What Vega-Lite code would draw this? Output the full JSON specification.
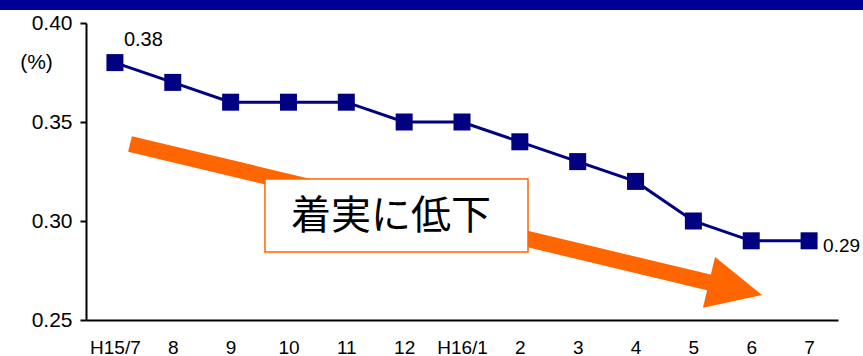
{
  "$schema": "https://vega.github.io/schema/vega-lite/v6.json",
  "width": 752,
  "height": 297,
  "autosize": {"type": "none"},
  "padding": {"left": 86, "top": 23, "right": 25, "bottom": 36},
  "background": "white",
  "config": {
    "font": "Liberation Sans",
    "view": {"stroke": null},
    "axis": {"grid": false, "domainColor": "black", "domainWidth": 2, "tickColor": "black", "tickWidth": 2, "labelColor": "black", "titleColor": "black"}
  },
  "datasets": {
    "rate": [
      {"month": "H15/7", "i": 0, "v": 0.38},
      {"month": "8", "i": 1, "v": 0.37},
      {"month": "9", "i": 2, "v": 0.36},
      {"month": "10", "i": 3, "v": 0.36},
      {"month": "11", "i": 4, "v": 0.36},
      {"month": "12", "i": 5, "v": 0.35},
      {"month": "H16/1", "i": 6, "v": 0.35},
      {"month": "2", "i": 7, "v": 0.34},
      {"month": "3", "i": 8, "v": 0.33},
      {"month": "4", "i": 9, "v": 0.32},
      {"month": "5", "i": 10, "v": 0.30},
      {"month": "6", "i": 11, "v": 0.29},
      {"month": "7", "i": 12, "v": 0.29}
    ],
    "note": [{"label": "着実に低下"}]
  },
  "layer": [
    {
      "data": {"name": "note"},
      "mark": {"type": "rect", "color": "#000099", "clip": false},
      "encoding": {
        "x": {"datum": -1.99, "type": "quantitative", "scale": {"domain": [-0.5, 12.5], "nice": false, "zero": false}},
        "x2": {"datum": 12.95},
        "y": {"datum": 0.4118, "type": "quantitative", "scale": {"domain": [0.25, 0.40], "nice": false, "zero": false}},
        "y2": {"datum": 0.4066}
      }
    },
    {
      "data": {"name": "rate"},
      "mark": {"type": "line", "color": "#000080", "strokeWidth": 3,
        "point": {"shape": "square", "size": 289, "filled": true, "color": "#000080", "opacity": 1}},
      "encoding": {
        "x": {"field": "i", "type": "quantitative",
          "scale": {"domain": [-0.5, 12.5], "nice": false, "zero": false},
          "axis": {"values": [0, 1, 2, 3, 4, 5, 6, 7, 8, 9, 10, 11, 12], "ticks": false, "tickSize": 0,
            "labelPadding": 18, "labelFontSize": 19, "labelBaseline": "top",
            "labelExpr": "['H15/7','8','9','10','11','12','H16/1','2','3','4','5','6','7'][datum.value]",
            "title": null}},
        "y": {"field": "v", "type": "quantitative",
          "scale": {"domain": [0.25, 0.40], "nice": false, "zero": false},
          "axis": {"values": [0.25, 0.30, 0.35, 0.40], "format": ".2f", "tickSize": 6, "labelPadding": 8,
            "labelFontSize": 21, "title": "(%)", "titleAngle": 0, "titleFontSize": 21, "titleFontWeight": "normal",
            "titleAlign": "center", "titleBaseline": "middle", "titleX": -50, "titleY": 39}}
      }
    },
    {
      "data": {"name": "note"},
      "mark": {"type": "rule", "color": "#FF6600", "strokeWidth": 16, "strokeCap": "butt"},
      "encoding": {
        "x": {"datum": 0.261, "type": "quantitative"},
        "y": {"datum": 0.3389, "type": "quantitative"},
        "x2": {"datum": 10.34},
        "y2": {"datum": 0.2685}
      }
    },
    {
      "data": {"name": "note"},
      "mark": {"type": "point", "shape": "M1,0L-1,-0.96L-1,0.96Z", "size": 2970, "angle": 13.4,
        "filled": true, "color": "#FF6600", "opacity": 1},
      "encoding": {
        "x": {"datum": 10.728, "type": "quantitative"},
        "y": {"datum": 0.2658, "type": "quantitative"}
      }
    },
    {
      "data": {"name": "note"},
      "mark": {"type": "rect", "fill": "white", "stroke": "#FF6600", "strokeWidth": 1.5},
      "encoding": {
        "x": {"datum": 2.594, "type": "quantitative"},
        "x2": {"datum": 7.141},
        "y": {"datum": 0.3212, "type": "quantitative"},
        "y2": {"datum": 0.2843}
      }
    },
    {
      "data": {"name": "note"},
      "mark": {"type": "text", "font": "Noto Sans CJK JP", "fontSize": 40,
        "color": "black", "align": "center", "baseline": "middle"},
      "encoding": {
        "x": {"datum": 4.773, "type": "quantitative"},
        "y": {"datum": 0.3018, "type": "quantitative"},
        "text": {"field": "label"}
      }
    },
    {
      "data": {"name": "rate"},
      "transform": [{"filter": "datum.i == 0"}],
      "mark": {"type": "text", "fontSize": 20, "color": "black", "align": "left", "baseline": "alphabetic", "dx": 9, "dy": -17},
      "encoding": {
        "x": {"field": "i", "type": "quantitative"},
        "y": {"field": "v", "type": "quantitative"},
        "text": {"field": "v", "type": "quantitative", "format": ".2f"}
      }
    },
    {
      "data": {"name": "rate"},
      "transform": [{"filter": "datum.i == 12"}],
      "mark": {"type": "text", "fontSize": 19, "color": "black", "align": "left", "baseline": "alphabetic", "dx": 14, "dy": 11},
      "encoding": {
        "x": {"field": "i", "type": "quantitative"},
        "y": {"field": "v", "type": "quantitative"},
        "text": {"field": "v", "type": "quantitative", "format": ".2f"}
      }
    }
  ]
}
